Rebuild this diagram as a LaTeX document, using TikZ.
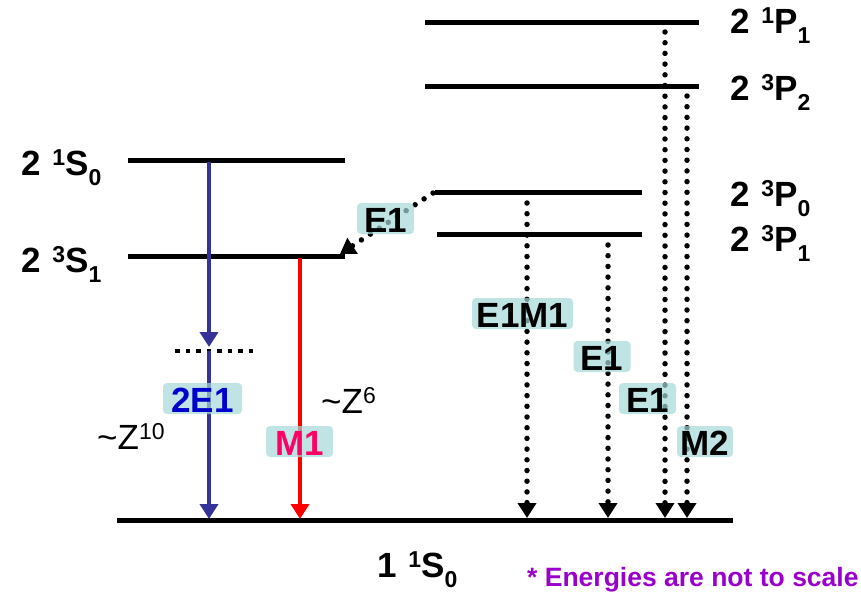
\documentclass[tikz,border=0pt]{standalone}
\usepackage{fontspec}
\setmainfont{Liberation Sans}
\usetikzlibrary{arrows.meta}

\definecolor{tealbox}{RGB}{165,216,216}
\definecolor{lineblue}{RGB}{51,51,153}
\definecolor{textblue}{RGB}{0,0,204}
\definecolor{mpink}{RGB}{255,0,102}
\definecolor{notepurple}{RGB}{153,0,204}

% term symbol: n ^{2S+1}L_J
\newcommand{\termsym}[4]{#1\hspace{2pt} \raisebox{10pt}{\fontsize{23}{23}\selectfont #2}#3\raisebox{-10pt}{\fontsize{23}{23}\selectfont #4}}
\newcommand{\zpow}[1]{\textasciitilde Z\raisebox{10pt}{\fontsize{23}{23}\selectfont #1}}

\tikzset{
  level/.style={line width=5pt},
  termlabel/.style={anchor=base west, inner sep=0pt, font=\fontsize{35}{38}\selectfont\bfseries},
  scaling/.style={anchor=base west, inner sep=0pt, font=\fontsize{35}{38}\selectfont},
  trlabel/.style={fill=tealbox, fill opacity=0.7, text opacity=1, rounded corners=4pt,
    font=\fontsize{35}{38}\selectfont\bfseries, text height=27pt, text depth=0pt,
    inner ysep=2pt, inner xsep=3pt},
  tip/.style={-{Triangle[width=18pt,length=15pt]}},
  dotline/.style={line width=5.5pt, line cap=round, dash pattern=on 0pt off 10.7pt},
}

\begin{document}
\begin{tikzpicture}[x=1pt, y=-1pt]
\useasboundingbox (0,0) rectangle (861,592);

% energy levels
\draw[level] (117,520) -- (733,520);
\draw[level] (128,160) -- (345,160);
\draw[level] (128,256) -- (345,256);
\draw[level] (425,22) -- (699,22);
\draw[level] (425,86) -- (699,86);
\draw[level] (435,192) -- (642,192);
\draw[level] (437,234) -- (642,234);

% virtual intermediate level
\draw[line width=4pt, dash pattern=on 4.5pt off 6pt] (175,351) -- (256,351);

% transition end points
\coordinate (s0top) at (209,162);
\coordinate (virtA) at (209,347);
\coordinate (virtB) at (209,351);
\coordinate (gndA) at (209,519);
\coordinate (s1top) at (300,258);
\coordinate (gndB) at (300,519);
\coordinate (p0start) at (433,193);
\coordinate (s1end) at (340,254);
\coordinate (p0a) at (527,203);
\coordinate (gndC) at (527,518);
\coordinate (p1a) at (608,245);
\coordinate (gndD) at (608,518);
\coordinate (pp1a) at (665,32);
\coordinate (gndE) at (665,518);
\coordinate (p2a) at (687,96);
\coordinate (gndF) at (687,518);

% two-photon decay 2 1S0 -> 1 1S0
\draw[lineblue, line width=4pt, tip] (s0top) -- (virtA);
\draw[lineblue, line width=4pt, tip] (virtB) -- (gndA);
% M1 decay 2 3S1 -> 1 1S0
\draw[red, line width=4.5pt, tip] (s1top) -- (gndB);
% dotted single-photon decays
\draw[dotline, tip] (p0start) -- (s1end);
\draw[dotline, tip] (p0a) -- (gndC);
\draw[dotline, tip] (p1a) -- (gndD);
\draw[dotline, tip] (pp1a) -- (gndE);
\draw[dotline, tip] (p2a) -- (gndF);

% transition labels
\node[trlabel, minimum width=57pt] (lE1a) at (385.5,218.5) {E1};
\node[trlabel, minimum width=79pt, text=textblue] (l2E1) at (202.5,398.5) {2E1};
\node[trlabel, minimum width=67pt, text=mpink] (lM1) at (299.5,441.5) {M1};
\node[trlabel, minimum width=101pt] (lE1M1) at (522.5,313.5) {E1M1};
\node[trlabel, minimum width=57pt] (lE1b) at (602,356.5) {E1};
\node[trlabel, minimum width=57pt] (lE1c) at (647.5,398.5) {E1};
\node[trlabel, minimum width=56pt] (lM2) at (705,441.5) {M2};

% Z scaling
\node[scaling] (z10) at (97,449) {\zpow{10}};
\node[scaling] (z6) at (321,413) {\zpow{6}};

% term symbols
\node[termlabel] (t21S0) at (21,175) {\termsym{2}{1}{S}{0}};
\node[termlabel] (t23S1) at (21,272) {\termsym{2}{3}{S}{1}};
\node[termlabel] (t21P1) at (730,33) {\termsym{2}{1}{P}{1}};
\node[termlabel] (t23P2) at (730,100) {\termsym{2}{3}{P}{2}};
\node[termlabel] (t23P0) at (730,206) {\termsym{2}{3}{P}{0}};
\node[termlabel] (t23P1) at (730,251) {\termsym{2}{3}{P}{1}};
\node[termlabel] (t11S0) at (377,577) {\termsym{1}{1}{S}{0}};

% note
\node[anchor=base west, inner sep=0pt, text=notepurple, font=\fontsize{26.5}{28}\selectfont\bfseries] (note) at (527,586) {* Energies are not to scale};
\end{tikzpicture}
\end{document}
